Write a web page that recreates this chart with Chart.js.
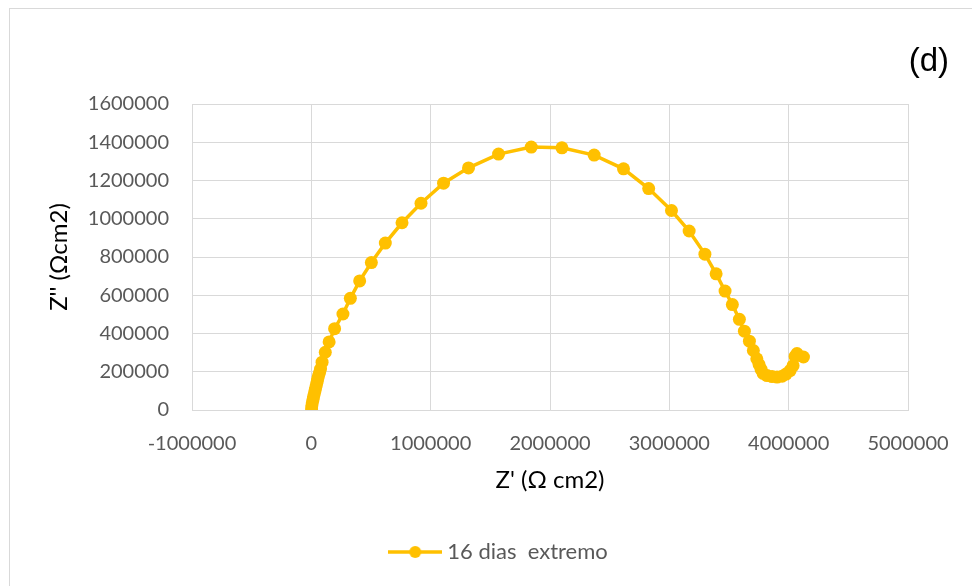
<!DOCTYPE html>
<html>
<head>
<meta charset="utf-8">
<script src="https://cdn.jsdelivr.net/npm/chart.js@4.4.1/dist/chart.umd.min.js"></script>
<style>
    html, body { margin: 0; padding: 0; background: #fff; }
    #wrap { position: relative; width: 972px; height: 586px; overflow: hidden; }
    #frame { position: absolute; left: 9px; top: 8px; width: 1000px; height: 700px; border: 1px solid #d9d9d9; box-sizing: border-box; }
    #nyquist-chart { position: absolute; left: 0; top: 0; }
</style>
</head>
<body>
<div id="wrap">
    <div id="frame"></div>
    <canvas id="nyquist-chart" width="972" height="586"></canvas>
</div>
<script>
// Nyquist plot, 16 days, extreme exposure
const seriesName = '16 dias  extremo';
const zReal = [
    2000, 4000, 8000, 14000, 19000, 25000, 31000, 37000, 43000, 49000,
    54000, 61000, 69000, 77000, 90000, 117000, 149000, 195000, 265000, 327000,
    405000, 503000, 620000, 760000, 919000, 1108000, 1317000, 1569000, 1843000, 2100000,
    2370000, 2616000, 2827000, 3018000, 3166000, 3298000, 3392000, 3467000, 3528000, 3587000,
    3629000, 3671000, 3704000, 3733000, 3752000, 3769000, 3786000, 3819000, 3861000, 3903000,
    3945000, 3978000, 4012000, 4037000, 4054000, 4070000, 4124000
];
const zImag = [
    6000, 22000, 38000, 54000, 70000, 85000, 101000, 117000, 133000, 148000,
    164000, 180000, 196000, 214000, 250000, 302000, 356000, 425000, 502000, 584000,
    675000, 771000, 873000, 979000, 1081000, 1186000, 1266000, 1338000, 1375000, 1371000,
    1333000, 1261000, 1158000, 1043000, 936000, 815000, 712000, 622000, 551000, 474000,
    412000, 360000, 311000, 268000, 238000, 212000, 191000, 180000, 175000, 172000,
    177000, 188000, 206000, 232000, 280000, 295000, 277000
];
const xTicks = { min: -1000000, max: 5000000, step: 1000000 };
const yTicks = { min: 0, max: 1600000, step: 200000 };

const yellow = '#FFC000';
const gridColor = '#d9d9d9';
const tickColor = '#595959';

// legend marker: line with a dot in the middle
function legendMarker() {
    const c = document.createElement('canvas');
    c.width = 54;
    c.height = 14;
    const ctx = c.getContext('2d');
    ctx.strokeStyle = yellow;
    ctx.lineWidth = 3.5;
    ctx.beginPath();
    ctx.moveTo(0, 7);
    ctx.lineTo(54, 7);
    ctx.stroke();
    ctx.fillStyle = yellow;
    ctx.beginPath();
    ctx.arc(27, 7, 6, 0, Math.PI * 2);
    ctx.fill();
    return c;
}

// panel letter in the top right corner
const panelLabel = {
    id: 'panelLabel',
    afterDraw(chart) {
        const ctx = chart.ctx;
        ctx.save();
        ctx.font = '33px "Liberation Sans", Arial, sans-serif';
        ctx.fillStyle = '#000';
        ctx.textAlign = 'right';
        ctx.textBaseline = 'middle';
        ctx.fillText('(d)', 949, 62);
        ctx.restore();
    }
};

// centre the legend on the whole frame, not just under the padded area
const legendSpan = {
    id: 'legendSpan',
    beforeDraw(chart) {
        chart.legend.left = 30;
        chart.legend.right = chart.width;
    }
};

const points = zReal.map((x, i) => ({ x: x, y: zImag[i] }));

new Chart(document.getElementById('nyquist-chart'), {
    type: 'scatter',
    data: {
        datasets: [{
            label: seriesName,
            data: points,
            showLine: true,
            borderColor: yellow,
            backgroundColor: yellow,
            borderWidth: 3.5,
            pointRadius: 6.5,
            pointHoverRadius: 6.5,
            pointBorderWidth: 0,
            tension: 0
        }]
    },
    options: {
        responsive: false,
        animation: false,
        devicePixelRatio: 1,
        layout: {
            padding: { top: 104, right: 64, bottom: 13, left: 0 }
        },
        plugins: {
            tooltip: { enabled: false },
            legend: {
                position: 'bottom',
                labels: {
                    usePointStyle: true,
                    pointStyle: legendMarker(),
                    pointStyleWidth: 42,
                    color: tickColor,
                    padding: 14,
                    font: { family: 'Lato', size: 22 }
                }
            }
        },
        scales: {
            x: {
                type: 'linear',
                min: xTicks.min,
                max: xTicks.max,
                afterFit(scale) { scale.height = 117; },
                grid: { color: gridColor, lineWidth: 1, drawTicks: false },
                border: { color: gridColor },
                ticks: {
                    stepSize: xTicks.step,
                    color: tickColor,
                    padding: 22,
                    maxRotation: 0,
                    font: { family: 'Lato', size: 20 },
                    callback: v => String(v)
                },
                title: {
                    display: true,
                    text: "Z' (Ω cm2)",
                    color: '#000',
                    font: { family: 'Lato', size: 24 },
                    padding: { top: 0, bottom: 32 }
                }
            },
            y: {
                type: 'linear',
                min: yTicks.min,
                max: yTicks.max,
                afterFit(scale) { scale.width = 192; },
                grid: { color: gridColor, lineWidth: 1, drawTicks: false },
                border: { color: gridColor },
                ticks: {
                    stepSize: yTicks.step,
                    color: tickColor,
                    padding: 23,
                    font: { family: 'Lato', size: 20 },
                    callback: v => String(v)
                },
                title: {
                    display: true,
                    text: "Z'' (Ωcm2)",
                    color: '#000',
                    font: { family: 'Lato', size: 24 },
                    padding: { top: 45, bottom: 0 }
                }
            }
        }
    },
    plugins: [panelLabel, legendSpan]
});
</script>
</body>
</html>
